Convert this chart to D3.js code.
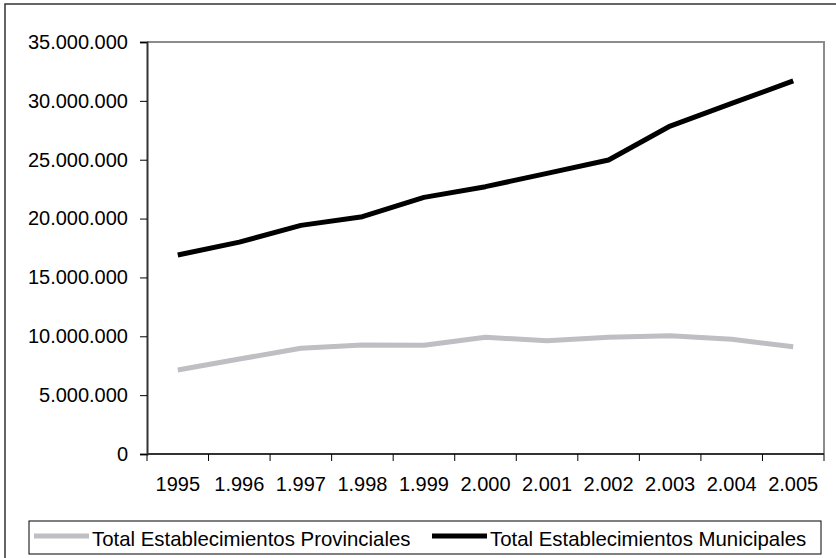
<!DOCTYPE html>
<html><head><meta charset="utf-8">
<script src="https://cdn.jsdelivr.net/npm/d3@7/dist/d3.min.js"></script>
<style>
body{margin:0;background:#fff}
svg{display:block}
text{font-family:"Liberation Sans",Arial,Helvetica,sans-serif;fill:#000}
</style>
</head><body>
<svg id="c" width="836" height="558"></svg>
<script>
// ---- data ----
const years = ["1995","1.996","1.997","1.998","1.999","2.000","2.001","2.002","2.003","2.004","2.005"];
const provinciales = [7140000, 8070000, 8980000, 9260000, 9240000, 9910000, 9630000, 9910000, 10050000, 9740000, 9120000];
const municipales = [16900000, 18000000, 19420000, 20160000, 21800000, 22710000, 23840000, 24980000, 27860000, 29790000, 31690000];
const yTicks = [0, 5000000, 10000000, 15000000, 20000000, 25000000, 30000000, 35000000];
const seriesNames = ["Total Establecimientos Provinciales", "Total Establecimientos Municipales"];
const seriesColors = ["#bfbfc3", "#000000"];

// ---- layout ----
const W = 836, H = 558;
const plot = {left: 147, right: 824, top: 42, bottom: 454};
const svg = d3.select("#c");

// outer chart border
svg.append("rect").attr("x", 5).attr("y", 4).attr("width", W + 10).attr("height", H + 10)
  .attr("fill", "#fff").attr("stroke", "#333").attr("stroke-width", 1.5);

const x = d3.scaleBand().domain(years).range([plot.left, plot.right]).paddingInner(0).paddingOuter(0);
const y = d3.scaleLinear().domain([0, 35000000]).range([plot.bottom, plot.top]);

const loc = d3.formatLocale({decimal: ",", thousands: ".", grouping: [3], currency: ["", ""]});
const fmt = loc.format(",");

// plot frame (top & right gray)
svg.append("path")
  .attr("d", `M${plot.left},${plot.top}H${plot.right}V${plot.bottom}`)
  .attr("fill", "none").attr("stroke", "#8c8c8c").attr("stroke-width", 2);

// y axis
const yAxis = d3.axisLeft(y).tickValues(yTicks).tickSize(7).tickPadding(12).tickFormat(fmt);
const gy = svg.append("g").attr("transform", `translate(${plot.left},0)`).call(yAxis);
gy.select(".domain").attr("stroke", "#333").attr("stroke-width", 2);
gy.selectAll(".tick line").attr("stroke", "#000").attr("stroke-width", 1);
gy.selectAll(".tick text").attr("font-size", 20).attr("font-family", "Liberation Sans, Arial, sans-serif");

// x axis (category boundaries as ticks)
const bounds = years.map(d => x(d)).concat([plot.right]);
const gx = svg.append("g");
gx.append("line").attr("x1", plot.left).attr("x2", plot.right).attr("y1", plot.bottom).attr("y2", plot.bottom)
  .attr("stroke", "#333").attr("stroke-width", 2);
gx.selectAll("line.tk").data(bounds).join("line").attr("class", "tk")
  .attr("x1", d => d).attr("x2", d => d).attr("y1", plot.bottom).attr("y2", plot.bottom + 7)
  .attr("stroke", "#000").attr("stroke-width", 1);
gx.selectAll("text").data(years).join("text")
  .attr("x", d => x(d) + x.bandwidth() / 2).attr("y", 491)
  .attr("text-anchor", "middle").attr("font-size", 20).text(d => d);

// lines
const line = d3.line().x((d, i) => x(years[i]) + x.bandwidth() / 2).y(d => y(d));
[provinciales, municipales].forEach((s, k) => {
  svg.append("path").datum(s).attr("d", line)
    .attr("fill", "none").attr("stroke", seriesColors[k]).attr("stroke-width", 5)
    .attr("stroke-linejoin", "round").attr("stroke-linecap", "butt");
});

// legend
const lg = svg.append("g");
lg.append("rect").attr("x", 29).attr("y", 521).attr("width", 792).attr("height", 33)
  .attr("fill", "#fff").attr("stroke", "#000").attr("stroke-width", 1);
const legendX = [34, 432];
seriesNames.forEach((n, k) => {
  lg.append("line").attr("x1", legendX[k]).attr("x2", legendX[k] + 55).attr("y1", 536).attr("y2", 536)
    .attr("stroke", seriesColors[k]).attr("stroke-width", 5);
  lg.append("text").attr("x", legendX[k] + 58).attr("y", 546).attr("font-size", 20.4).text(n);
});
</script>
</body></html>
